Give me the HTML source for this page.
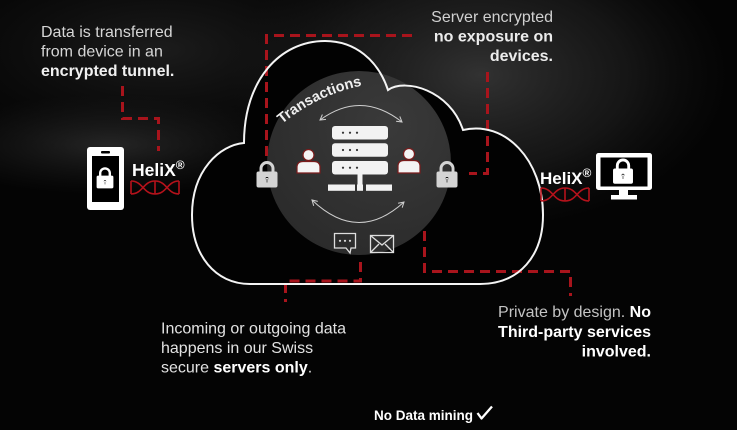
<!DOCTYPE html>
<html><head><meta charset="utf-8">
<style>
html,body{margin:0;padding:0;background:#000;}
body{width:737px;height:430px;overflow:hidden;}
svg{display:block;}
text{font-family:"Liberation Sans",Arial,sans-serif;}
</style></head><body>
<svg width="737" height="430" viewBox="0 0 737 430" xmlns="http://www.w3.org/2000/svg">
<defs>
<radialGradient id="g1"><stop offset="0" stop-color="#3a3a3a" stop-opacity="0.85"/><stop offset="0.6" stop-color="#2a2a2a" stop-opacity="0.45"/><stop offset="1" stop-color="#1a1a1a" stop-opacity="0"/></radialGradient>
<radialGradient id="g2"><stop offset="0" stop-color="#333" stop-opacity="0.7"/><stop offset="1" stop-color="#222" stop-opacity="0"/></radialGradient>
<radialGradient id="g3"><stop offset="0" stop-color="#1c1c1c" stop-opacity="1"/><stop offset="1" stop-color="#111" stop-opacity="0"/></radialGradient>
<radialGradient id="gc" cx="0.65" cy="0.3" r="0.8"><stop offset="0" stop-color="#3a3a3a"/><stop offset="1" stop-color="#2a2a2a"/></radialGradient>
<g id="lock">
<rect x="0" y="10" width="20" height="15" rx="1.5"/>
<path d="M4 11 V6.5 A6 6 0 0 1 16 6.5 V11" fill="none" stroke-width="3"/>
<circle cx="10" cy="16.5" r="2" fill="#000"/>
<rect x="9.2" y="16.5" width="1.6" height="4.5" fill="#000"/>
</g>
<g id="dna" fill="none" stroke="#b5121b" stroke-width="1.6">
<path d="M131 181 C143 181 143 194 155 194 C167 194 167 181 179 181"/>
<path d="M131 194 C143 194 143 181 155 181 C167 181 167 194 179 194"/>
<path d="M131 181 V194 M155 181 V194 M179 181 V194"/>
</g>
</defs>

<rect width="737" height="430" fill="#040404"/>
<ellipse cx="160" cy="50" rx="260" ry="110" fill="url(#g3)"/>
<ellipse cx="480" cy="75" rx="250" ry="155" fill="url(#g1)"/>
<ellipse cx="110" cy="145" rx="190" ry="50" fill="url(#g2)"/>

<!-- cloud fill -->
<path d="M250 284 L480 284 C520 284 543 255 543 215 C543 160 505 120 463 130 C450 90 405 78 388 90 C378 60 355 41 325 41 C280 41 244 80 244 143 C220 145 192 170 192 215 C192 255 215 284 250 284 Z" fill="#020202"/>

<!-- grey circle -->
<circle cx="359" cy="163" r="92" fill="url(#gc)"/>

<!-- dashed connectors -->
<g fill="none" stroke="#a8141c" stroke-width="3" stroke-dasharray="10 6">
<path d="M122.5 86 V118.5 H158.5 V151"/>
<path d="M266.5 156 V35.5 H412"/>
<path d="M487.5 72 V173.5 H469"/>
<path d="M424.5 231 V271.5 H570.5 V296"/>
<path d="M360.5 262 V281 H285.5 V302"/>
</g>

<!-- cloud outline -->
<path d="M250 284 L480 284 C520 284 543 255 543 215 C543 160 505 120 463 130 C450 90 405 78 388 90 C378 60 355 41 325 41 C280 41 244 80 244 143 C220 145 192 170 192 215 C192 255 215 284 250 284 Z" fill="none" stroke="#f4f4f4" stroke-width="2"/>

<!-- Transactions -->
<path id="tp" d="M282 124 A184 184 0 0 1 378 83" fill="none"/>
<text font-size="14.5" font-weight="bold" fill="#f0f0f0"><textPath href="#tp">Transactions</textPath></text>

<!-- arcs with arrows -->
<g fill="none" stroke="#cfcfcf" stroke-width="1">
<path d="M320 120 Q361 90 402 122"/>
<path d="M326 119.4 L320 120 L322.4 114.5"/>
<path d="M399.8 116.4 L402 122 L396.1 121.2"/>
<path d="M312 200 Q358 244 404 202"/>
<path d="M313.7 205.8 L312 200 L317.8 201.4"/>
<path d="M398.1 203.3 L404 202 L402.2 207.7"/>
</g>

<!-- server -->
<g fill="#f2f2f2">
<rect x="332" y="126" width="56" height="13.5" rx="3"/>
<rect x="332" y="143.3" width="56" height="13.5" rx="3"/>
<rect x="332" y="161" width="56" height="13.5" rx="3"/>
<rect x="357.5" y="174" width="5" height="10.5"/>
<rect x="328" y="184.5" width="27" height="6.3"/>
<rect x="357" y="184.5" width="6" height="6.3"/>
<rect x="366" y="184.5" width="26" height="6.3"/>
</g>
<g fill="#333">
<circle cx="343" cy="132.7" r="1.1"/><circle cx="350" cy="132.7" r="1.1"/><circle cx="357" cy="132.7" r="1.1"/>
<circle cx="343" cy="150" r="1.1"/><circle cx="350" cy="150" r="1.1"/><circle cx="357" cy="150" r="1.1"/>
<circle cx="343" cy="167.7" r="1.1"/><circle cx="350" cy="167.7" r="1.1"/><circle cx="357" cy="167.7" r="1.1"/>
</g>

<!-- persons -->
<g fill="#f4f4f4" stroke="#7a1c1c" stroke-width="1.2">
<circle cx="308.5" cy="155" r="5.5"/>
<path d="M297 173 V167.5 Q297 161.5 303 161.5 H314 Q320 161.5 320 167.5 V173 Z"/>
<circle cx="409" cy="154" r="5.5"/>
<path d="M398 173 V166.5 Q398 160.5 404 160.5 H414 Q420 160.5 420 166.5 V173 Z"/>
</g>

<!-- locks -->
<use href="#lock" transform="translate(257,162)" fill="#d4d4d4" stroke="#d4d4d4"/>
<use href="#lock" transform="translate(437,162)" fill="#d4d4d4" stroke="#d4d4d4"/>

<!-- chat & mail -->
<g fill="none" stroke="#dedede" stroke-width="1.3">
<path d="M334.5 233.5 H355.5 V248 H351 L350 253 L346 248 H334.5 Z"/>
<rect x="370.5" y="235.5" width="23" height="17"/>
<path d="M370.5 235.5 L382 245 L393.5 235.5 M370.5 252.5 L379 244 M393.5 252.5 L385 244"/>
</g>
<g fill="#dedede">
<circle cx="340" cy="240.8" r="1.1"/><circle cx="345" cy="240.8" r="1.1"/><circle cx="350" cy="240.8" r="1.1"/>
</g>

<!-- phone -->
<rect x="87" y="147" width="37" height="63" rx="3" fill="#fff"/>
<rect x="92" y="156" width="27" height="46" fill="#000"/>
<rect x="101" y="151" width="9" height="2.5" rx="1" fill="#000"/>
<use href="#lock" transform="translate(97,168) scale(0.8)" fill="#fff" stroke="#fff"/>

<!-- monitor -->
<rect x="596" y="153" width="56" height="37" rx="2.5" fill="#fff"/>
<rect x="600.5" y="157.5" width="47" height="29" fill="#000"/>
<rect x="619" y="189" width="9" height="6.5" fill="#fff"/>
<rect x="611" y="195" width="26" height="4.5" fill="#fff"/>
<use href="#lock" transform="translate(613.5,159.5) scale(0.95)" fill="#fff" stroke="#fff"/>

<!-- HeliX -->
<text x="132" y="176" font-size="17.5" font-weight="bold" fill="#fff">HeliX<tspan font-size="12" dy="-7">®</tspan></text>
<use href="#dna"/>
<text x="540" y="184" font-size="17" font-weight="bold" fill="#fff">HeliX<tspan font-size="12" dy="-7">®</tspan></text>
<use href="#dna" transform="translate(410,7)"/>

<!-- texts -->
<g font-size="16">
<text x="41" y="37" fill="#d6d6d6">Data is transferred</text>
<text x="41" y="56.5" fill="#d6d6d6">from device in an</text>
<text x="41" y="76" fill="#f0f0f0" font-weight="bold">encrypted tunnel.</text>

<text x="553" y="22" fill="#d0d0d0" text-anchor="end">Server encrypted</text>
<text x="553" y="41.5" fill="#ececec" text-anchor="end" font-weight="bold">no exposure on</text>
<text x="553" y="61" fill="#ececec" text-anchor="end" font-weight="bold">devices.</text>

<text x="651" y="317" fill="#c4c4c4" text-anchor="end">Private by design. <tspan font-weight="bold" fill="#fff">No</tspan></text>
<text x="651" y="337" fill="#fff" text-anchor="end" font-weight="bold">Third-party services</text>
<text x="651" y="356.5" fill="#fff" text-anchor="end" font-weight="bold">involved.</text>

<text x="161" y="333.5" fill="#e2e2e2">Incoming or outgoing data</text>
<text x="161" y="353" fill="#e2e2e2">happens in our Swiss</text>
<text x="161" y="372.5" fill="#e2e2e2">secure <tspan font-weight="bold" fill="#fff">servers only</tspan>.</text>
</g>

<text x="374" y="420" font-size="13.5" font-weight="bold" fill="#fff">No Data mining</text>
<path d="M477.5 413 L481.5 418.5 L492 406.5" fill="none" stroke="#fff" stroke-width="2.3" stroke-linejoin="round"/>
</svg>
</body></html>
